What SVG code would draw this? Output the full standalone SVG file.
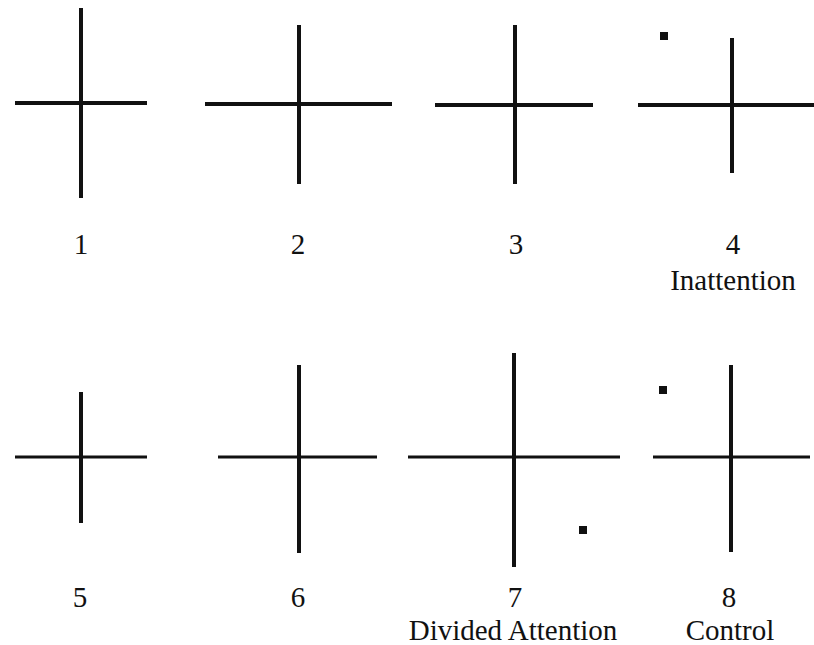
<svg xmlns="http://www.w3.org/2000/svg" width="814" height="645" viewBox="0 0 814 645">
  <style>
    .ln { stroke: #111; stroke-width: 4; stroke-linecap: butt; fill: none; }
    .ln2 { stroke: #111; stroke-width: 3; stroke-linecap: butt; fill: none; }
    .dot { fill: #111; }
    .lbl { font-family: "Liberation Serif", "Times New Roman", serif; font-size: 29px; fill: #111; text-anchor: middle; }
  </style>
  <rect x="0" y="0" width="814" height="645" fill="#fff"/>
  <g id="cross1">
    <line class="ln" x1="81" y1="8" x2="81" y2="198"/>
    <line class="ln" x1="15" y1="103" x2="147" y2="103"/>
    <text class="lbl" x="81" y="254">1</text>
  </g>
  <g id="cross2">
    <line class="ln" x1="299" y1="25" x2="299" y2="184"/>
    <line class="ln" x1="205" y1="104" x2="392" y2="104"/>
    <text class="lbl" x="298" y="254">2</text>
  </g>
  <g id="cross3">
    <line class="ln" x1="515" y1="25" x2="515" y2="184"/>
    <line class="ln" x1="435" y1="105" x2="593" y2="105"/>
    <text class="lbl" x="516" y="254">3</text>
  </g>
  <g id="cross4">
    <rect class="dot" x="660" y="32" width="8" height="8"/>
    <line class="ln" x1="732" y1="38" x2="732" y2="173"/>
    <line class="ln" x1="638" y1="105" x2="814" y2="105"/>
    <text class="lbl" x="733" y="254">4</text>
    <text class="lbl" x="733" y="290">Inattention</text>
  </g>
  <g id="cross5">
    <line class="ln" x1="81" y1="392" x2="81" y2="523"/>
    <line class="ln2" x1="15" y1="457" x2="147" y2="457"/>
    <text class="lbl" x="80" y="607">5</text>
  </g>
  <g id="cross6">
    <line class="ln" x1="299" y1="365" x2="299" y2="553"/>
    <line class="ln2" x1="218" y1="457" x2="377" y2="457"/>
    <text class="lbl" x="298" y="607">6</text>
  </g>
  <g id="cross7">
    <line class="ln" x1="514" y1="353" x2="514" y2="567"/>
    <line class="ln2" x1="408" y1="457" x2="620" y2="457"/>
    <rect class="dot" x="579" y="526" width="8" height="8"/>
    <text class="lbl" x="515" y="607">7</text>
    <text class="lbl" x="513" y="640">Divided Attention</text>
  </g>
  <g id="cross8">
    <rect class="dot" x="659" y="386" width="8" height="8"/>
    <line class="ln" x1="731" y1="365" x2="731" y2="552"/>
    <line class="ln2" x1="653" y1="457" x2="810" y2="457"/>
    <text class="lbl" x="729" y="607">8</text>
    <text class="lbl" x="730" y="640">Control</text>
  </g>
  <g id="connectors"/>
</svg>
